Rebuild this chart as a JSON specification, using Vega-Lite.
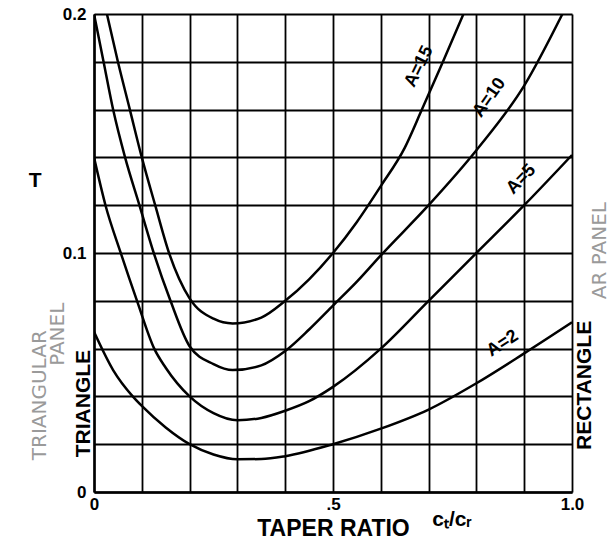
{
  "$schema": "https://vega.github.io/schema/vega-lite/v6.json",
  "width": 478,
  "height": 478,
  "autosize": "none",
  "padding": {"left": 94, "top": 14, "right": 39, "bottom": 54},
  "background": "white",
  "config": {"view": {"stroke": null}, "font": "Liberation Sans"},
  "datasets": {
    "curves": [
      {"A": "15", "taper": 0.027, "tau": 0.2},
      {"A": "15", "taper": 0.05, "tau": 0.18},
      {"A": "15", "taper": 0.075, "tau": 0.16},
      {"A": "15", "taper": 0.1, "tau": 0.14},
      {"A": "15", "taper": 0.128, "tau": 0.12},
      {"A": "15", "taper": 0.157, "tau": 0.1},
      {"A": "15", "taper": 0.2, "tau": 0.081},
      {"A": "15", "taper": 0.25, "tau": 0.0725},
      {"A": "15", "taper": 0.29, "tau": 0.0705},
      {"A": "15", "taper": 0.35, "tau": 0.073},
      {"A": "15", "taper": 0.4, "tau": 0.08},
      {"A": "15", "taper": 0.45, "tau": 0.089},
      {"A": "15", "taper": 0.5, "tau": 0.1},
      {"A": "15", "taper": 0.55, "tau": 0.113},
      {"A": "15", "taper": 0.6, "tau": 0.128},
      {"A": "15", "taper": 0.65, "tau": 0.144},
      {"A": "15", "taper": 0.686, "tau": 0.16},
      {"A": "15", "taper": 0.73, "tau": 0.18},
      {"A": "15", "taper": 0.773, "tau": 0.2},
      {"A": "10", "taper": 0.0, "tau": 0.2},
      {"A": "10", "taper": 0.02, "tau": 0.18},
      {"A": "10", "taper": 0.04, "tau": 0.16},
      {"A": "10", "taper": 0.065, "tau": 0.14},
      {"A": "10", "taper": 0.095, "tau": 0.12},
      {"A": "10", "taper": 0.125, "tau": 0.1},
      {"A": "10", "taper": 0.16, "tau": 0.08},
      {"A": "10", "taper": 0.2, "tau": 0.061},
      {"A": "10", "taper": 0.25, "tau": 0.0535},
      {"A": "10", "taper": 0.29, "tau": 0.051},
      {"A": "10", "taper": 0.35, "tau": 0.053},
      {"A": "10", "taper": 0.4, "tau": 0.059},
      {"A": "10", "taper": 0.45, "tau": 0.068},
      {"A": "10", "taper": 0.5, "tau": 0.078},
      {"A": "10", "taper": 0.55, "tau": 0.088},
      {"A": "10", "taper": 0.6, "tau": 0.099},
      {"A": "10", "taper": 0.7, "tau": 0.12},
      {"A": "10", "taper": 0.8, "tau": 0.143},
      {"A": "10", "taper": 0.9, "tau": 0.17},
      {"A": "10", "taper": 0.98, "tau": 0.2},
      {"A": "5", "taper": 0.0, "tau": 0.14},
      {"A": "5", "taper": 0.024, "tau": 0.12},
      {"A": "5", "taper": 0.056, "tau": 0.1},
      {"A": "5", "taper": 0.09, "tau": 0.08},
      {"A": "5", "taper": 0.126, "tau": 0.06},
      {"A": "5", "taper": 0.15, "tau": 0.052},
      {"A": "5", "taper": 0.2, "tau": 0.04},
      {"A": "5", "taper": 0.25, "tau": 0.033},
      {"A": "5", "taper": 0.3, "tau": 0.03},
      {"A": "5", "taper": 0.35, "tau": 0.031},
      {"A": "5", "taper": 0.4, "tau": 0.034},
      {"A": "5", "taper": 0.45, "tau": 0.038},
      {"A": "5", "taper": 0.5, "tau": 0.044},
      {"A": "5", "taper": 0.6, "tau": 0.06},
      {"A": "5", "taper": 0.7, "tau": 0.08},
      {"A": "5", "taper": 0.8, "tau": 0.1},
      {"A": "5", "taper": 0.9, "tau": 0.12},
      {"A": "5", "taper": 1.0, "tau": 0.141},
      {"A": "2", "taper": 0.0, "tau": 0.067},
      {"A": "2", "taper": 0.04, "tau": 0.051},
      {"A": "2", "taper": 0.081, "tau": 0.04},
      {"A": "2", "taper": 0.1, "tau": 0.036},
      {"A": "2", "taper": 0.15, "tau": 0.027},
      {"A": "2", "taper": 0.2, "tau": 0.02},
      {"A": "2", "taper": 0.25, "tau": 0.0157},
      {"A": "2", "taper": 0.3, "tau": 0.0137},
      {"A": "2", "taper": 0.35, "tau": 0.0138},
      {"A": "2", "taper": 0.4, "tau": 0.015},
      {"A": "2", "taper": 0.5, "tau": 0.02},
      {"A": "2", "taper": 0.6, "tau": 0.0265},
      {"A": "2", "taper": 0.7, "tau": 0.0345},
      {"A": "2", "taper": 0.8, "tau": 0.0455},
      {"A": "2", "taper": 0.9, "tau": 0.058},
      {"A": "2", "taper": 1.0, "tau": 0.071}
    ],
    "notes": [
      {"key": "A15", "taper": 0.68, "tau": 0.178, "text": "A=15"},
      {"key": "A10", "taper": 0.827, "tau": 0.165, "text": "A=10"},
      {"key": "A5", "taper": 0.894, "tau": 0.1308, "text": "A=5"},
      {"key": "A2", "taper": 0.855, "tau": 0.0621, "text": "A=2"},
      {"key": "tri", "taper": -0.021, "tau": 0.037, "text": "TRIANGLE"},
      {"key": "rect", "taper": 1.027, "tau": 0.0446, "text": "RECTANGLE"},
      {"key": "tau", "taper": -0.123, "tau": 0.13, "text": "T"},
      {"key": "ratio", "taper": 0.749, "tau": -0.0118, "text": "cₜ/cᵣ"},
      {"key": "hw1", "taper": -0.113, "tau": 0.0405, "text": "TRIANGULAR"},
      {"key": "hw2", "taper": -0.075, "tau": 0.066, "text": "PANEL"},
      {"key": "hw3", "taper": 1.059, "tau": 0.101, "text": "AR PANEL"}
    ]
  },
  "layer": [
    {
      "data": {"name": "curves"},
      "mark": {"type": "line", "interpolate": "monotone", "stroke": "black", "strokeWidth": 2.5, "clip": true},
      "encoding": {
        "x": {
          "field": "taper", "type": "quantitative",
          "scale": {"domain": [0, 1], "nice": false, "zero": false},
          "axis": {
            "values": [0, 0.1, 0.2, 0.3, 0.4, 0.5, 0.6, 0.7, 0.8, 0.9, 1],
            "labelExpr": "datum.value == 0 ? '0' : (datum.value == 0.5 ? '.5' : (datum.value == 1 ? '1.0' : ''))",
            "grid": true, "gridColor": "black", "gridWidth": 1.8, "gridOpacity": 1,
            "domainColor": "black", "domainWidth": 2.5, "ticks": false,
            "labelFont": "Liberation Sans", "labelFontSize": 17, "labelFontWeight": "bold", "labelColor": "black",
            "labelPadding": 4, "labelFlush": false, "labelOverlap": false,
            "title": "TAPER RATIO", "titleFont": "Liberation Sans", "titleFontSize": 23, "titleFontWeight": "bold",
            "titleColor": "black", "titlePadding": 5
          }
        },
        "y": {
          "field": "tau", "type": "quantitative",
          "scale": {"domain": [0, 0.2], "nice": false},
          "axis": {
            "values": [0, 0.02, 0.04, 0.06, 0.08, 0.1, 0.12, 0.14, 0.16, 0.18, 0.2],
            "labelExpr": "datum.value == 0 ? '0' : (datum.value == 0.1 ? '0.1' : (datum.value == 0.2 ? '0.2' : ''))",
            "grid": true, "gridColor": "black", "gridWidth": 1.8, "gridOpacity": 1,
            "domainColor": "black", "domainWidth": 2.5, "ticks": false,
            "labelFont": "Liberation Sans", "labelFontSize": 17, "labelFontWeight": "bold", "labelColor": "black",
            "labelPadding": 8, "labelFlush": false, "labelOverlap": false,
            "title": null
          }
        },
        "detail": {"field": "A", "type": "nominal"}
      }
    },
    {
      "data": {"name": "notes"},
      "transform": [{"filter": "datum.key == 'A15'"}],
      "mark": {"type": "text", "angle": -64, "fontSize": 18, "fontWeight": "bold", "color": "black", "align": "center", "baseline": "middle"},
      "encoding": {"x": {"field": "taper", "type": "quantitative"}, "y": {"field": "tau", "type": "quantitative"}, "text": {"field": "text"}}
    },
    {
      "data": {"name": "notes"},
      "transform": [{"filter": "datum.key == 'A10'"}],
      "mark": {"type": "text", "angle": -55, "fontSize": 18, "fontWeight": "bold", "color": "black", "align": "center", "baseline": "middle"},
      "encoding": {"x": {"field": "taper", "type": "quantitative"}, "y": {"field": "tau", "type": "quantitative"}, "text": {"field": "text"}}
    },
    {
      "data": {"name": "notes"},
      "transform": [{"filter": "datum.key == 'A5'"}],
      "mark": {"type": "text", "angle": -46, "fontSize": 18, "fontWeight": "bold", "color": "black", "align": "center", "baseline": "middle"},
      "encoding": {"x": {"field": "taper", "type": "quantitative"}, "y": {"field": "tau", "type": "quantitative"}, "text": {"field": "text"}}
    },
    {
      "data": {"name": "notes"},
      "transform": [{"filter": "datum.key == 'A2'"}],
      "mark": {"type": "text", "angle": -33, "fontSize": 18, "fontWeight": "bold", "color": "black", "align": "center", "baseline": "middle"},
      "encoding": {"x": {"field": "taper", "type": "quantitative"}, "y": {"field": "tau", "type": "quantitative"}, "text": {"field": "text"}}
    },
    {
      "data": {"name": "notes"},
      "transform": [{"filter": "datum.key == 'tri' || datum.key == 'rect'"}],
      "mark": {"type": "text", "angle": -90, "fontSize": 21, "fontWeight": "bold", "color": "black", "align": "center", "baseline": "middle"},
      "encoding": {"x": {"field": "taper", "type": "quantitative"}, "y": {"field": "tau", "type": "quantitative"}, "text": {"field": "text"}}
    },
    {
      "data": {"name": "notes"},
      "transform": [{"filter": "datum.key == 'tau' || datum.key == 'ratio'"}],
      "mark": {"type": "text", "fontSize": 21, "fontWeight": "bold", "color": "black", "align": "center", "baseline": "middle"},
      "encoding": {"x": {"field": "taper", "type": "quantitative"}, "y": {"field": "tau", "type": "quantitative"}, "text": {"field": "text"}}
    },
    {
      "data": {"name": "notes"},
      "transform": [{"filter": "datum.key == 'hw1' || datum.key == 'hw2' || datum.key == 'hw3'"}],
      "mark": {"type": "text", "angle": -90, "fontSize": 20, "font": "DejaVu Sans", "color": "#9a9a9a", "align": "center", "baseline": "middle"},
      "encoding": {"x": {"field": "taper", "type": "quantitative"}, "y": {"field": "tau", "type": "quantitative"}, "text": {"field": "text"}}
    }
  ]
}
